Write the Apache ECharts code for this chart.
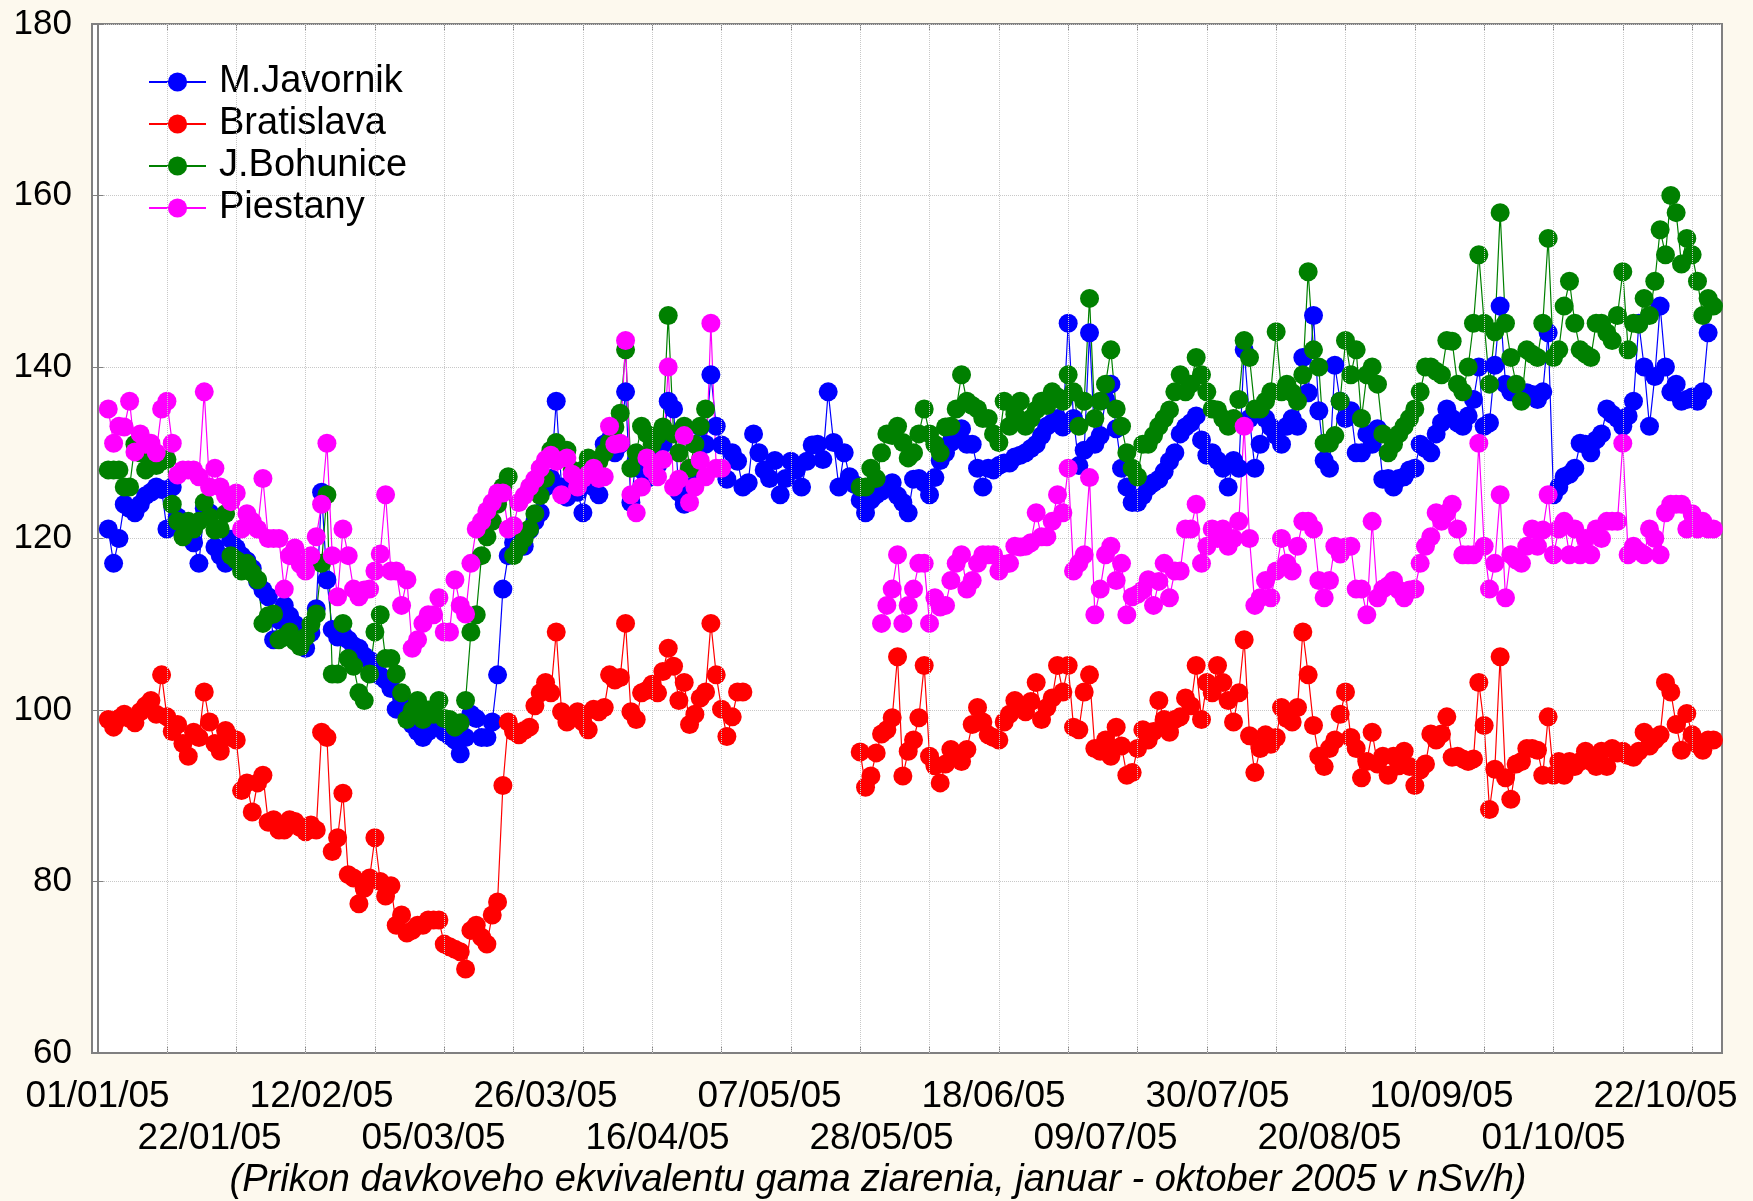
<!DOCTYPE html>
<html>
<head>
<meta charset="utf-8">
<script src="https://cdn.jsdelivr.net/npm/echarts@6/dist/echarts.min.js"></script>
<style>
  html, body { margin: 0; padding: 0; background: #fdf9ee; }
  #chart { width: 1753px; height: 1201px; }
</style>
</head>
<body>
<div id="chart"></div>
<script>
// daily values, first value = 03/01/05 (day 2 counted from 01/01/05), null = no measurement
const firstDay = 2;

const javornik = [
  121.1, 117.1, 120.0, 124.0, 123.5, 123.0, 124.0, 125.0, 125.4, 126.0,
  125.7, 121.1, 126.0, 122.5, 121.1, 120.2, 119.5, 117.1, 123.5, 123.0,
  119.0, 118.0, 117.1, 119.9, 118.9, 118.0, 117.4, 116.5, 115.0, 114.0,
  113.2, 108.2, 110.5, 112.2, 111.0, 110.0, 108.5, 107.2, 109.0, 111.8,
  125.4, 115.2, 109.4, 108.5, 108.8, 108.2, 107.5, 107.2, 106.3, 105.8,
  104.8, 104.0, 103.5, 102.5, 100.1, 101.4, 99.5, 98.3, 97.5, 96.8,
  97.5, 98.0, 98.3, 97.4, 97.0, 96.5, 94.9, 96.8, 99.5, 99.0,
  96.8, 96.8, 98.6, 104.1, 114.1, 118.0, 119.5, 119.0, 119.1, 121.0,
  122.0, 123.0, 126.0, 127.0, 136.0, 126.0, 124.8, 126.0, 125.4, 123.0,
  126.5, 126.0, 125.1, 131.0, 131.5, 130.0, 131.0, 137.1, 124.2, 129.2,
  128.0, 127.0, 130.0, 128.5, 131.0, 136.0, 135.1, 125.4, 124.0, 126.0,
  128.0, 133.0, 131.0, 139.1, 133.1, 130.9, 126.9, 130.0, 129.0, 126.0,
  126.5, 132.2, 130.0, 128.0, 127.0, 129.1, 125.1, 127.0, 129.0, 128.0,
  126.0, 129.0, 130.9, 131.0, 129.2, 137.1, 131.2, 126.0, 130.0, 127.2,
  126.3, 124.5, 123.0, 124.5, 125.1, 125.5, 126.0, 126.5, 125.0, 124.2,
  123.0, 126.9, 127.0, 126.5, 125.1, 127.1, 129.1, 130.0, 131.2, 132.0,
  132.8, 131.0, 131.0, 128.2, 126.0, 128.2, 128.0, 128.5, 128.8, 128.8,
  129.5, 129.7, 130.0, 130.5, 131.0, 132.0, 133.1, 133.5, 134.0, 133.0,
  145.1, 134.0, 128.5, 130.3, 144.0, 131.0, 132.0, 136.2, 138.0, 132.8,
  128.2, 126.0, 124.2, 124.2, 125.0, 126.0, 126.5, 126.9, 127.8, 129.0,
  130.0, 132.2, 133.0, 133.5, 134.3, 131.5, 129.7, 130.0, 129.1, 128.2,
  126.0, 129.1, 128.2, 142.0, 134.0, 128.2, 131.0, 134.0, 133.0, 132.0,
  131.0, 133.1, 134.0, 133.1, 141.1, 137.0, 146.0, 134.9, 129.1, 128.2,
  140.2, 136.0, 134.0, 134.9, 130.0, 130.0, 132.2, 131.0, 132.8, 126.9,
  127.0, 126.0, 127.0, 127.2, 128.0, 128.2, 131.0, 130.5, 130.0, 132.2,
  133.5, 135.1, 134.0, 133.5, 133.1, 134.3, 136.2, 140.0, 133.1, 133.5,
  140.2, 147.1, 138.0, 137.1, 137.0, 136.5, 137.0, 136.8, 136.2, 137.1,
  144.0, 125.1, 126.0, 127.2, 127.5, 128.2, 131.1, 131.0, 130.0, 131.5,
  132.2, 135.1, 134.5, 134.0, 133.1, 134.3, 136.0, 145.1, 140.0, 133.1,
  138.9, 147.1, 140.0, 137.1, 138.0, 136.0, 136.2, 136.5, 136.0, 137.1,
  144.0, null
];

const bratislava = [
  98.9, 98.0, 99.0, 99.5, 99.0, 98.5, 99.8, 100.5, 101.1, 99.5,
  104.1, 99.2, 97.5, 98.3, 96.1, 94.6, 97.4, 96.8, 102.1, 98.6,
  96.1, 95.2, 97.6, 96.8, 96.5, 90.6, 91.5, 88.1, 91.5, 92.4,
  86.9, 87.2, 86.0, 86.0, 87.2, 87.0, 86.3, 85.8, 86.6, 86.0,
  97.4, 96.8, 83.5, 85.1, 90.3, 80.8, 80.4, 77.4, 79.2, 80.4,
  85.1, 80.0, 78.3, 79.5, 74.9, 76.1, 74.0, 74.3, 74.9, 74.9,
  75.5, 75.5, 75.5, 72.7, 72.4, 72.1, 71.8, 69.8, 74.3, 74.9,
  73.5, 72.7, 76.1, 77.6, 91.2, 98.6, 97.5, 97.1, 97.6, 98.0,
  100.5, 102.0, 103.2, 102.0, 109.1, 99.8, 98.6, 99.2, 99.8, 98.6,
  97.7, 100.1, 99.8, 100.3, 104.1, 103.5, 103.8, 110.1, 99.8, 98.9,
  102.0, 102.3, 103.0, 102.0, 104.5, 107.2, 105.1, 101.1, 103.2, 98.3,
  99.5, 101.4, 102.1, 110.1, 104.1, 100.1, 96.9, 99.2, 102.1, 102.1,
  null, null, null, null, null, null, null, null, null, null,
  null, null, null, null, null, null, null, null, null, null,
  null, 95.1, 91.0, 92.3, 95.0, 97.2, 97.7, 99.1, 106.2, 92.3,
  95.2, 96.5, 99.1, 105.2, 94.6, 93.5, 91.5, 93.7, 95.4, 94.5,
  94.0, 95.4, 98.3, 100.3, 98.6, 97.1, 96.8, 96.5, 98.6, 99.5,
  101.1, 100.3, 99.8, 101.0, 103.2, 98.9, 100.3, 101.4, 105.2, 102.1,
  105.2, 98.0, 97.7, 102.1, 104.1, 95.5, 95.2, 96.5, 94.6, 98.0,
  95.8, 92.4, 92.7, 95.5, 97.7, 96.5, 97.5, 101.1, 98.9, 97.4,
  98.9, 99.2, 101.4, 100.5, 105.2, 98.9, 103.2, 102.0, 105.2, 103.2,
  101.1, 98.6, 102.0, 108.2, 97.0, 92.7, 95.5, 97.1, 96.0, 96.8,
  100.3, 99.0, 98.6, 100.3, 109.1, 104.1, 98.2, 94.6, 93.4, 95.5,
  96.5, 99.5, 102.1, 96.8, 95.5, 92.1, 94.0, 97.4, 93.7, 94.6,
  92.4, 94.6, 93.5, 95.2, 93.4, 91.2, 93.0, 93.7, 97.2, 96.5,
  97.2, 99.2, 94.5, 94.6, 94.3, 94.0, 94.3, 103.2, 98.2, 88.4,
  93.1, 106.2, 92.1, 89.6, 93.7, 94.0, 95.5, 95.5, 95.3, 92.4,
  99.2, 92.4, 94.0, 92.4, 94.0, 93.4, 94.0, 95.2, 94.0, 93.4,
  95.2, 93.4, 95.5, 95.0, 95.2, 94.7, 94.5, 95.2, 97.4, 95.8,
  96.5, 97.1, 103.2, 102.1, 98.3, 95.3, 99.6, 97.1, 96.0, 95.3,
  96.5, 96.5
];

const bohunice = [
  128.0, 128.0, 128.0, 126.0, 126.0, 131.0, 130.0, 128.0, 129.0, 128.5,
  129.0, 129.2, 124.0, 122.0, 120.2, 122.0, 121.1, 122.0, 124.2, 122.5,
  121.0, 121.1, 122.9, 118.0, 117.5, 116.2, 117.1, 116.0, 115.2, 110.1,
  111.0, 111.2, 108.2, 108.5, 109.1, 108.0, 107.4, 108.5, 110.0, 111.2,
  117.1, 125.1, 104.2, 104.2, 110.1, 106.0, 105.1, 102.0, 101.1, 104.2,
  109.1, 111.1, 106.0, 106.0, 104.2, 102.0, 98.9, 100.0, 101.1, 98.9,
  100.0, 99.5, 101.1, 99.0, 98.9, 98.0, 98.5, 101.1, 109.1, 111.1,
  118.0, 120.2, 122.0, 124.0, 126.0, 127.2, 118.0, 119.0, 120.0, 121.1,
  122.9, 125.0, 127.0, 130.3, 131.2, 130.0, 130.3, 128.0, 127.0, 128.0,
  129.4, 129.0, 129.0, 130.0, 131.2, 133.0, 134.6, 142.0, 128.2, 130.0,
  133.1, 132.2, 131.0, 132.0, 133.0, 146.0, 132.2, 130.0, 133.1, 128.2,
  131.0, 133.1, 135.1, null, null, null, null, null, null, null,
  null, null, null, null, null, null, null, null, null, null,
  null, null, null, null, null, null, null, null, null, null,
  null, 126.0, 126.0, 128.2, 127.0, 130.0, 132.2, 132.0, 133.1, 131.2,
  129.4, 130.0, 132.2, 135.1, 132.2, 131.0, 130.0, 133.0, 133.1, 135.1,
  139.1, 136.0, 135.5, 135.1, 134.0, 134.0, 132.2, 131.2, 136.0, 133.1,
  134.5, 136.0, 133.1, 134.0, 135.0, 136.0, 135.5, 137.1, 136.5, 136.0,
  139.1, 137.1, 133.1, 136.0, 148.0, 134.0, 136.0, 138.0, 142.0, 135.1,
  133.1, 130.0, 128.2, 127.2, 131.0, 131.0, 132.0, 133.1, 134.0, 135.0,
  137.1, 139.1, 137.1, 138.0, 141.1, 139.1, 137.1, 135.1, 135.0, 134.0,
  133.1, 134.0, 136.2, 143.1, 141.1, 135.1, 135.1, 136.0, 137.1, 144.1,
  137.1, 138.0, 137.0, 136.0, 139.1, 151.1, 142.0, 140.0, 131.1, 131.1,
  132.0, 136.0, 143.1, 139.1, 142.0, 134.0, 139.1, 140.0, 138.0, 132.2,
  130.0, 131.0, 132.2, 133.1, 134.0, 135.1, 137.1, 140.0, 140.0, 139.5,
  139.1, 143.1, 143.0, 138.0, 137.1, 140.0, 145.1, 153.1, 145.1, 138.0,
  144.1, 158.0, 145.1, 141.1, 138.0, 136.0, 142.0, 141.5, 141.1, 145.1,
  155.0, 141.1, 142.0, 147.1, 150.0, 145.1, 142.0, 141.5, 141.1, 145.1,
  145.1, 144.0, 143.1, 146.0, 151.1, 142.0, 145.1, 145.0, 148.0, 146.0,
  150.0, 156.0, 153.1, 160.0, 158.0, 152.0, 155.0, 153.1, 150.0, 146.0,
  148.0, 147.1
];

const piestany = [
  135.1, 131.1, 133.1, 133.0, 136.0, 130.1, 132.2, 131.0, 131.1, 130.0,
  135.1, 136.0, 131.1, 127.4, 128.0, 128.0, 128.0, 127.2, 137.1, 126.0,
  128.2, 126.0, 125.0, 124.3, 125.3, 121.1, 122.9, 122.0, 121.1, 127.0,
  120.0, 120.0, 120.0, 114.1, 118.0, 118.9, 117.0, 116.2, 118.0, 120.2,
  124.0, 131.1, 118.0, 113.2, 121.1, 118.0, 114.1, 113.2, 114.0, 114.1,
  116.2, 118.2, 125.1, 116.2, 116.2, 112.2, 115.2, 107.2, 108.2, 110.1,
  111.1, 111.1, 113.1, 109.1, 109.1, 115.2, 112.2, 111.2, 117.1, 121.1,
  122.0, 123.2, 124.2, 125.3, 125.3, 121.1, 121.5, 124.2, 125.0, 126.0,
  126.9, 128.2, 129.2, 129.7, 129.0, 125.1, 129.4, 127.5, 126.0, 127.0,
  127.5, 128.2, 127.0, 127.2, 133.1, 131.0, 131.1, 143.1, 125.1, 123.0,
  126.0, 129.4, 128.0, 127.2, 129.2, 140.0, 126.0, 126.9, 132.0, 124.2,
  126.0, 129.1, 127.2, 145.1, 128.2, 128.2, null, null, null, null,
  null, null, null, null, null, null, null, null, null, null,
  null, null, null, null, null, null, null, null, null, null,
  null, null, null, null, null, 110.1, 112.2, 114.1, 118.1, 110.1,
  112.2, 114.1, 117.1, 117.1, 110.1, 113.1, 112.0, 112.2, 115.1, 117.1,
  118.1, 114.1, 115.1, 117.1, 118.1, 118.1, 118.1, 116.2, 117.0, 117.1,
  119.1, 119.0, 119.1, 119.5, 123.0, 120.2, 120.2, 122.0, 125.1, 123.0,
  128.2, 116.2, 117.1, 118.1, 127.1, 111.1, 114.1, 118.1, 119.1, 115.1,
  117.1, 111.1, 113.2, 113.5, 114.0, 115.2, 112.2, 115.0, 117.1, 113.1,
  116.2, 116.2, 121.1, 121.1, 124.0, 117.1, 119.1, 121.1, 120.0, 121.1,
  119.1, 120.0, 122.0, 133.1, 120.0, 112.2, 113.1, 115.1, 113.1, 116.2,
  120.0, 117.1, 116.2, 119.1, 122.0, 122.0, 121.1, 115.1, 113.1, 115.1,
  119.1, 118.2, 119.0, 119.1, 114.1, 114.1, 111.1, 122.0, 113.1, 114.1,
  114.5, 115.1, 114.0, 113.1, 114.0, 114.1, 117.1, 119.1, 120.2, 123.0,
  122.0, 123.0, 124.0, 121.1, 118.1, 118.1, 118.1, 131.1, 119.1, 114.1,
  117.1, 125.1, 113.1, 118.1, 117.5, 117.1, 119.1, 121.1, 119.1, 121.0,
  125.1, 118.1, 121.1, 122.0, 118.1, 121.1, 118.1, 120.0, 118.1, 121.1,
  120.0, 122.0, 122.0, 122.0, 131.1, 118.1, 119.1, 118.5, 118.1, 121.1,
  120.0, 118.1, 123.0, 124.0, 124.0, 124.0, 121.1, 122.9, 121.1, 122.0,
  121.1, 121.1
];

// date labels every 21 days from 01/01/05 (alternating in two rows), grid every 13 days
const dateLabels = ['01/01/05', '22/01/05', '12/02/05', '05/03/05', '26/03/05', '16/04/05', '07/05/05', '28/05/05',
                    '18/06/05', '09/07/05', '30/07/05', '20/08/05', '10/09/05', '01/10/05', '22/10/05'];
const labelStep = 21;
const gridStep = 13;
const upperDays = dateLabels.map((d, i) => i * labelStep).filter((d, i) => i % 2 === 0);
const lowerDays = dateLabels.map((d, i) => i * labelStep).filter((d, i) => i % 2 === 1);
const gridDays = [];
for (let d = 0; d <= 300; d += gridStep) gridDays.push(d);

const toPoints = arr => arr.map((v, i) => [firstDay + i, v]);

const font = "'Liberation Sans', Arial, sans-serif";
const gridColor = '#c8c8c8';
const xMin = -1.05, xMax = 304.6;

function makeSeries(name, arr, color) {
  return {
    name: name,
    type: 'line',
    data: toPoints(arr),
    connectNulls: false,
    symbol: 'circle',
    symbolSize: 19,
    showSymbol: true,
    showAllSymbol: true,
    z: 3,
    itemStyle: { color: color },
    lineStyle: { color: color, width: 1.2 },
    emphasis: { disabled: true }
  };
}

function labelAxis(days, margin) {
  return {
    type: 'value', position: 'bottom', min: xMin, max: xMax,
    axisLine: { show: false }, axisTick: { show: false }, splitLine: { show: false },
    axisLabel: {
      show: true, customValues: days, margin: margin,
      showMinLabel: true, showMaxLabel: true, hideOverlap: false,
      fontSize: 37, color: '#000', fontFamily: font,
      formatter: v => dateLabels[Math.round(v / labelStep)]
    }
  };
}

const chart = echarts.init(document.getElementById('chart'));
chart.setOption({
  animation: false,
  backgroundColor: '#fdf9ee',
  textStyle: { fontFamily: font },
  grid: {
    left: 92, right: 31, top: 24, bottom: 148,
    show: true, backgroundColor: '#ffffff', borderColor: '#808080', borderWidth: 2
  },
  legend: {
    orient: 'vertical',
    left: 148, top: 63, padding: 0,
    itemWidth: 57, itemHeight: 24, itemGap: 4,
    selectedMode: false,
    textStyle: { fontSize: 38, color: '#000', fontFamily: font, lineHeight: 38, padding: [0, 0, 0, 8] },
    data: ['M.Javornik', 'Bratislava', 'J.Bohunice', 'Piestany']
  },
  xAxis: [
    {
      type: 'value', position: 'bottom', min: xMin, max: xMax,
      axisLine: { show: true, lineStyle: { color: '#808080', width: 2 } },
      axisTick: { show: true, inside: true, length: 6, customValues: gridDays, lineStyle: { color: '#808080' } },
      splitLine: { show: false },
      axisLabel: { show: false }
    },
    {
      type: 'value', position: 'top', min: xMin, max: xMax,
      axisLine: { show: false },
      axisTick: { show: true, inside: true, length: 6, customValues: gridDays, lineStyle: { color: '#808080' } },
      axisLabel: { show: false },
      splitLine: { show: false }
    },
    labelAxis(upperDays, 25),
    labelAxis(lowerDays, 67)
  ],
  yAxis: [
    {
      type: 'value', min: 60, max: 180, interval: 20,
      axisLine: { show: true, lineStyle: { color: '#808080', width: 2 } },
      axisTick: { show: true, inside: true, length: 6, lineStyle: { color: '#808080' } },
      axisLabel: { fontSize: 35, color: '#000', margin: 20, fontFamily: font },
      splitLine: { show: true, lineStyle: { color: gridColor, type: 'dotted', width: 1 } }
    },
    {
      type: 'value', position: 'right', min: 60, max: 180, interval: 20,
      axisLine: { show: false },
      axisTick: { show: true, inside: true, length: 6, lineStyle: { color: '#808080' } },
      axisLabel: { show: false },
      splitLine: { show: false }
    }
  ],
  series: [
    {
      name: 'grid', type: 'line', data: [], z: 1, silent: true,
      markLine: {
        silent: true, symbol: ['none', 'none'], label: { show: false },
        lineStyle: { color: gridColor, type: 'dotted', width: 1 },
        data: gridDays.filter(d => d > 0).map(d => ({ xAxis: d }))
      }
    },
    makeSeries('M.Javornik', javornik, '#0000ff'),
    makeSeries('Bratislava', bratislava, '#ff0000'),
    makeSeries('J.Bohunice', bohunice, '#008000'),
    makeSeries('Piestany', piestany, '#ff00ff')
  ],
  graphic: [
    {
      type: 'text', x: 878, y: 1180,
      style: {
        text: '(Prikon davkoveho ekvivalentu gama ziarenia, januar - oktober 2005 v nSv/h)',
        font: 'italic 38px ' + font, fill: '#000', align: 'center', verticalAlign: 'middle'
      }
    }
  ]
});
</script>
</body>
</html>
